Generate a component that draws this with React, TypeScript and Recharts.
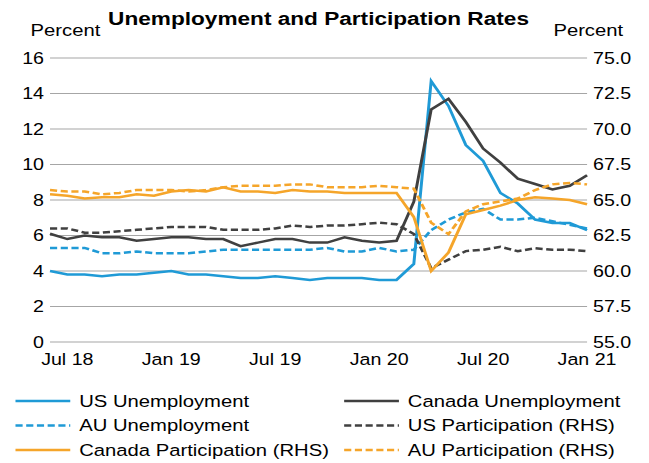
import { LineChart, Line, XAxis, YAxis, CartesianGrid } from "recharts"

// monthly, Jun 2018 - Jan 2021
const months = [
  "Jun 18", "Jul 18", "Aug 18", "Sep 18", "Oct 18", "Nov 18", "Dec 18",
  "Jan 19", "Feb 19", "Mar 19", "Apr 19", "May 19", "Jun 19", "Jul 19", "Aug 19", "Sep 19", "Oct 19", "Nov 19", "Dec 19",
  "Jan 20", "Feb 20", "Mar 20", "Apr 20", "May 20", "Jun 20", "Jul 20", "Aug 20", "Sep 20", "Oct 20", "Nov 20", "Dec 20",
  "Jan 21",
]
const xTicks = ["Jul 18", "Jan 19", "Jul 19", "Jan 20", "Jul 20", "Jan 21"]
const leftTicks = [0, 2, 4, 6, 8, 10, 12, 14, 16]
const rightTicks = [55, 57.5, 60, 62.5, 65, 67.5, 70, 72.5, 75]

const usUnemployment = [4.0, 3.8, 3.8, 3.7, 3.8, 3.8, 3.9, 4.0, 3.8, 3.8, 3.7, 3.6, 3.6, 3.7, 3.6, 3.5, 3.6, 3.6, 3.6, 3.5, 3.5, 4.4, 14.7, 13.3, 11.1, 10.2, 8.4, 7.8, 6.9, 6.7, 6.7, 6.3]
const canadaUnemployment = [6.1, 5.8, 6.0, 5.9, 5.9, 5.7, 5.8, 5.9, 5.9, 5.8, 5.8, 5.4, 5.6, 5.8, 5.8, 5.6, 5.6, 5.9, 5.7, 5.6, 5.7, 7.9, 13.1, 13.7, 12.4, 10.9, 10.1, 9.2, 8.9, 8.6, 8.8, 9.4]
const auUnemployment = [5.3, 5.3, 5.3, 5.0, 5.0, 5.1, 5.0, 5.0, 5.0, 5.1, 5.2, 5.2, 5.2, 5.2, 5.2, 5.2, 5.3, 5.1, 5.1, 5.3, 5.1, 5.2, 6.3, 6.9, 7.3, 7.5, 6.9, 6.9, 7.0, 6.8, 6.6, 6.4]
const usParticipation = [63.0, 63.0, 62.7, 62.7, 62.8, 62.9, 63.0, 63.1, 63.1, 63.1, 62.9, 62.9, 62.9, 63.0, 63.2, 63.1, 63.2, 63.2, 63.3, 63.4, 63.3, 62.6, 60.2, 60.8, 61.4, 61.5, 61.7, 61.4, 61.6, 61.5, 61.5, 61.4]
const canadaParticipation = [65.4, 65.3, 65.1, 65.2, 65.2, 65.4, 65.3, 65.6, 65.7, 65.6, 65.9, 65.6, 65.6, 65.5, 65.7, 65.6, 65.6, 65.5, 65.5, 65.5, 65.5, 63.8, 60.0, 61.3, 64.0, 64.3, 64.6, 65.0, 65.2, 65.1, 65.0, 64.7]
const auParticipation = [65.7, 65.6, 65.6, 65.4, 65.5, 65.7, 65.7, 65.7, 65.6, 65.7, 65.9, 66.0, 66.0, 66.0, 66.1, 66.1, 65.9, 65.9, 65.9, 66.0, 65.9, 65.8, 63.4, 62.6, 64.2, 64.7, 64.9, 65.1, 65.7, 66.1, 66.2, 66.1]

const BLUE = "#1f9ad6"
const DARK = "#404040"
const ORANGE = "#f5a52a"
const FONT = "'Liberation Sans', Arial, sans-serif"
const DASH = "6 3"

const data = months.map((month, i) => ({
  month,
  usU: usUnemployment[i],
  caU: canadaUnemployment[i],
  auU: auUnemployment[i],
  usP: usParticipation[i],
  caP: canadaParticipation[i],
  auP: auParticipation[i],
}))

const series = [
  { key: "usU", name: "US Unemployment", color: BLUE, dash: undefined, axis: "left" },
  { key: "caU", name: "Canada Unemployment", color: DARK, dash: undefined, axis: "left" },
  { key: "auU", name: "AU Unemployment", color: BLUE, dash: DASH, axis: "left" },
  { key: "usP", name: "US Participation (RHS)", color: DARK, dash: DASH, axis: "right" },
  { key: "caP", name: "Canada Participation (RHS)", color: ORANGE, dash: undefined, axis: "right" },
  { key: "auP", name: "AU Participation (RHS)", color: ORANGE, dash: DASH, axis: "right" },
]

// the source picture is stretched sideways, so draw narrower and scale
const W = 545
const H = 463
const SX = 649 / W

const tickStyle = { fontSize: 16.5, fill: "#000", fontFamily: FONT }

function Overlay() {
  const colX = [13, 289]
  const rowY = [401, 425.5, 450]
  return (
    <svg width={W} height={H} style={{ position: "absolute", left: 0, top: 0, pointerEvents: "none" }}>
      <text x={267.5} y={25} textAnchor="middle" fontFamily={FONT} fontWeight="bold" fontSize={19} fill="#000">
        Unemployment and Participation Rates
      </text>
      <text x={55} y={36} textAnchor="middle" fontFamily={FONT} fontSize={17} fill="#000">Percent</text>
      <text x={494} y={36} textAnchor="middle" fontFamily={FONT} fontSize={17} fill="#000">Percent</text>
      {series.map((s, i) => {
        const x = colX[i % 2]
        const y = rowY[Math.floor(i / 2)]
        return (
          <g key={s.key}>
            <line x1={x} x2={x + 46} y1={y} y2={y} stroke={s.color} strokeWidth={2.5} strokeDasharray={s.dash} />
            <text x={x + 53.5} y={y + 6} fontFamily={FONT} fontSize={17} fill="#000">{s.name}</text>
          </g>
        )
      })}
    </svg>
  )
}

export default function App() {
  return (
    <div style={{ position: "fixed", left: 0, top: 0, width: 649, height: H, overflow: "hidden", background: "#fff" }}>
      <div style={{ position: "relative", width: W, height: H, transform: `scaleX(${SX})`, transformOrigin: "0 0" }}>
        <LineChart width={W} height={H} data={data} margin={{ top: 58, right: 0, left: 0, bottom: 91 }}>
          <CartesianGrid yAxisId="left" vertical={false} stroke="#a6a6a6" strokeWidth={1} />
          <XAxis
            dataKey="month"
            ticks={xTicks}
            interval={0}
            axisLine={false}
            tickLine={false}
            tickSize={0}
            tickMargin={11}
            height={30}
            tick={tickStyle}
          />
          <YAxis
            yAxisId="left"
            domain={[0, 16]}
            ticks={leftTicks}
            width={42}
            axisLine={false}
            tickLine={false}
            tickSize={0}
            tickMargin={5}
            tick={tickStyle}
          />
          <YAxis
            yAxisId="right"
            orientation="right"
            domain={[55, 75]}
            ticks={rightTicks}
            width={52}
            axisLine={false}
            tickLine={false}
            tickSize={0}
            tickMargin={5}
            tick={tickStyle}
            tickFormatter={(v: number) => v.toFixed(1)}
          />
          {series.map((s) => (
            <Line
              key={s.key}
              yAxisId={s.axis}
              type="linear"
              dataKey={s.key}
              name={s.name}
              stroke={s.color}
              strokeWidth={2.5}
              strokeDasharray={s.dash}
              dot={false}
              activeDot={false}
              isAnimationActive={false}
            />
          ))}
        </LineChart>
        <Overlay />
      </div>
    </div>
  )
}
